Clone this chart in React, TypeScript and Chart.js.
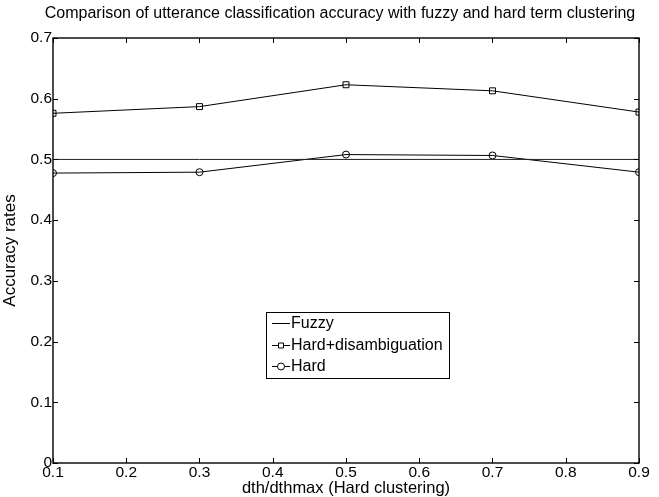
import React, { useEffect, useRef } from "react";
import { Chart, registerables } from "chart.js";

Chart.register(...registerables);

// Threshold ratios (x) and accuracy rates for each clustering method
const thresholds = [0.1, 0.3, 0.5, 0.7, 0.9];
const fuzzyAcc = [0.5, 0.5, 0.5, 0.5, 0.5];
const hardDisambAcc = [0.576, 0.587, 0.623, 0.613, 0.578];
const hardAcc = [0.4775, 0.479, 0.508, 0.5065, 0.479];

const xTicks = [0.1, 0.2, 0.3, 0.4, 0.5, 0.6, 0.7, 0.8, 0.9];
const yTicks = [0, 0.1, 0.2, 0.3, 0.4, 0.5, 0.6, 0.7];

const seriesNames = ["Fuzzy", "Hard+disambiguation", "Hard"];
const chartTitle = "Comparison of utterance classification accuracy with fuzzy and hard term clustering";
const xTitle = "dth/dthmax (Hard clustering)";
const yTitle = "Accuracy rates";

const FONT = "'Liberation Sans', Arial, Helvetica, sans-serif";

const fmt = (v: number) => (Math.abs(v) < 1e-9 ? "0" : v.toFixed(1));

// Draws a MATLAB-style hollow marker (square / circle)
function drawMarker(ctx: CanvasRenderingContext2D, kind: string, x: number, y: number) {
  ctx.save();
  ctx.strokeStyle = "#000";
  ctx.lineWidth = 1;
  ctx.fillStyle = "#fff";
  ctx.beginPath();
  if (kind === "rect") {
    ctx.rect(x - 2.5, y - 2.5, 5, 5);
  } else {
    ctx.arc(x, y, 3.5, 0, Math.PI * 2);
  }
  ctx.fill();
  ctx.stroke();
  ctx.restore();
}

// Frame, inward tick marks, title and in-plot legend
const framePlugin = {
  id: "matlabFrame",
  afterDatasetsDraw(chart: any) {
    const { ctx, chartArea } = chart;
    const { left, right, top, bottom } = chartArea;
    const xs = chart.scales.x;
    const ys = chart.scales.y;
    const tl = 5;
    ctx.save();
    ctx.strokeStyle = "#000";
    ctx.lineWidth = 1;
    ctx.beginPath();
    xTicks.forEach((v) => {
      const px = Math.round(xs.getPixelForValue(v)) + 0.5;
      ctx.moveTo(px, bottom);
      ctx.lineTo(px, bottom - tl);
      ctx.moveTo(px, top);
      ctx.lineTo(px, top + tl);
    });
    yTicks.forEach((v) => {
      const py = Math.round(ys.getPixelForValue(v)) + 0.5;
      ctx.moveTo(left, py);
      ctx.lineTo(left + tl, py);
      ctx.moveTo(right, py);
      ctx.lineTo(right - tl, py);
    });
    ctx.stroke();
    ctx.lineWidth = 1.4;
    ctx.strokeRect(left, top, right - left, bottom - top);

    // title
    ctx.fillStyle = "#000";
    ctx.font = `16px ${FONT}`;
    ctx.textAlign = "center";
    ctx.textBaseline = "middle";
    ctx.fillText(chartTitle, 340, 14);

    // legend
    const lx = 266, ly = 312, lw = 183, lh = 66;
    ctx.fillStyle = "#fff";
    ctx.fillRect(lx, ly, lw, lh);
    ctx.lineWidth = 1;
    ctx.strokeStyle = "#000";
    ctx.strokeRect(lx + 0.5, ly + 0.5, lw, lh);
    const markers = ["", "rect", "circle"];
    const rowY = [323, 345, 366];
    ctx.font = `16px ${FONT}`;
    ctx.textAlign = "left";
    seriesNames.forEach((name, i) => {
      const y = rowY[i] + 0.5;
      ctx.beginPath();
      ctx.moveTo(lx + 6, y);
      ctx.lineTo(lx + 24, y);
      ctx.stroke();
      if (markers[i]) drawMarker(ctx, markers[i], lx + 15, y);
      ctx.fillStyle = "#000";
      ctx.fillText(name, lx + 25, rowY[i] + 1);
    });
    ctx.restore();
  },
};

export default function App() {
  const canvasRef = useRef<HTMLCanvasElement | null>(null);

  useEffect(() => {
    const canvas = canvasRef.current;
    if (!canvas) return;
    const pts = (vals: number[]) => thresholds.map((x, i) => ({ x, y: vals[i] }));
    const base = {
      borderColor: "#000",
      borderWidth: 1,
      pointBorderColor: "#000",
      pointBackgroundColor: "rgba(255,255,255,0)",
      pointBorderWidth: 1,
      tension: 0,
      fill: false,
    };
    const chart = new Chart(canvas, {
      type: "line",
      data: {
        datasets: [
          { ...base, label: seriesNames[0], data: pts(fuzzyAcc), pointRadius: 0, borderColor: "#222" },
          { ...base, label: seriesNames[1], data: pts(hardDisambAcc), pointStyle: "rect", pointRadius: 4.2 },
          { ...base, label: seriesNames[2], data: pts(hardAcc), pointStyle: "circle", pointRadius: 3.5 },
        ],
      },
      options: {
        animation: false,
        responsive: false,
        devicePixelRatio: 1,
        layout: { padding: { left: 0, top: 38, right: 20, bottom: 0 } },
        plugins: {
          legend: { display: false },
          title: { display: false },
          tooltip: { enabled: false },
        },
        scales: {
          x: {
            type: "linear",
            min: 0.1,
            max: 0.9,
            afterBuildTicks: (s: any) => {
              s.ticks = xTicks.map((value) => ({ value }));
            },
            afterFit: (s: any) => {
              s.height = 34;
            },
            grid: { display: false, drawTicks: false },
            border: { display: false },
            ticks: {
              color: "#000",
              font: { family: FONT, size: 15.5, lineHeight: 1 },
              padding: 2,
              maxRotation: 0,
              autoSkip: false,
              callback: (v: any) => fmt(Number(v)),
            },
            title: {
              display: true,
              text: xTitle,
              color: "#000",
              font: { family: FONT, size: 16.5, lineHeight: 1 },
              padding: { top: 0, bottom: 0 },
            },
          },
          y: {
            type: "linear",
            min: 0,
            max: 0.7,
            afterBuildTicks: (s: any) => {
              s.ticks = yTicks.map((value) => ({ value }));
            },
            afterFit: (s: any) => {
              s.width = 53;
            },
            grid: { display: false, drawTicks: false },
            border: { display: false },
            ticks: {
              color: "#000",
              font: { family: FONT, size: 15.5 },
              padding: 1,
              autoSkip: false,
              callback: (v: any) => fmt(Number(v)),
            },
            title: {
              display: true,
              text: yTitle,
              color: "#000",
              font: { family: FONT, size: 17, lineHeight: 1 },
              padding: { top: 2, bottom: 0 },
            },
          },
        },
      },
      plugins: [framePlugin],
    });
    return () => chart.destroy();
  }, []);

  return (
    <div style={{ position: "fixed", left: 0, top: 0, width: 659, height: 497, background: "#fff" }}>
      <canvas ref={canvasRef} width={659} height={497} style={{ width: 659, height: 497, display: "block" }} />
    </div>
  );
}
